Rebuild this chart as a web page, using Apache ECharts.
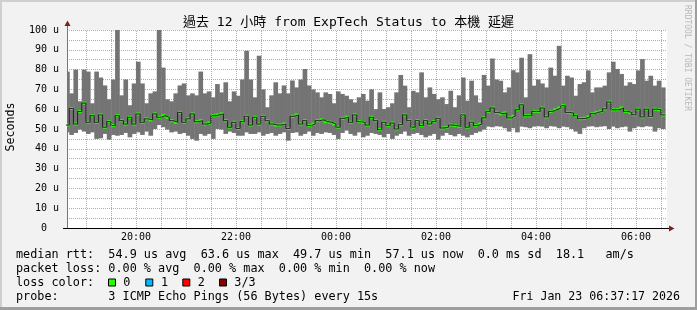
<!DOCTYPE html>
<html><head><meta charset="utf-8">
<script src="https://cdn.jsdelivr.net/npm/echarts@6/dist/echarts.min.js"></script>
<style>html,body{margin:0;padding:0;background:#f2f2f2}#c{width:697px;height:310px}</style>
</head><body><div id="c"></div>
<script>
// ---- time axis (minutes after 18:00) ----
const VIEW_START = 37.283;   // 18:37:17
const VIEW_END = 757.283;    // 06:37:17
const BIN0 = 35;             // first 5-minute bin starts 18:35
const STEP = 5;

// ---- data (microseconds) per 5-minute bin ----
const rttMax = [79,68,80,64,80,79,63,79,76,72,65,75,100,67,75,62,73,84,73,63,68,69,100,81,65,64,68,72,73,67,68,67,79,68,69,66,
72.7,68.5,73.6,64,69,66.8,75,89.5,75,66,87,70,61,67,73.6,68,72,68,74.5,71,75,80.3,72,70,68.5,66,68.5,67.7,63,69,67.7,66.8,65,63.4,66,67.7,
64.3,70,60,68.5,60.1,61,63,68.5,77.3,71.9,61,69.3,68.5,78.6,66,71,67.7,65,66,62.6,69.3,61,67,76,64.3,74.4,67,63.4,77.3,71.9,85.6,75,74.4,68.5,71,79.7,
78.6,86,66,87.8,71.9,75,73,71,81,76.9,92,71.9,76.9,76,66.8,72.7,73.6,79.6,68.5,71,71,71.9,78.6,84,80.3,77.8,71.9,73.6,72.7,79.6,85.3,74.4,76.9,71.9,74.4,71];
const rttMin = [48.3,47.0,48.0,49.7,48.7,47.5,48.3,45.0,45.3,47.5,44.6,47.0,46.6,47.0,48.0,45.8,47.5,48.3,47.0,48.7,46.6,50.0,52.0,50.9,49.7,48.3,48.7,47.5,48.0,46.6,45.0,44.1,47.5,46.6,47.5,45.0,
50.0,49.7,47.5,48.7,48.0,46.6,46.6,48.3,47.5,47.5,48.3,46.6,47.5,48.0,46.6,47.5,48.3,44.1,48.0,48.3,46.6,47.5,48.7,46.6,48.0,47.5,48.3,48.0,47.0,45.0,48.0,49.2,47.5,46.6,48.3,45.8,
46.6,48.0,47.5,47.0,45.8,47.5,45.0,46.6,47.5,48.7,46.6,47.5,48.0,47.0,45.8,46.6,47.5,44.6,46.6,48.0,47.0,46.3,47.5,46.6,45.8,47.0,48.0,48.7,
49.7,51.2,50.9,51.4,51.2,50.4,48.7,
50.4,48.3,51.2,50.9,50.4,51.2,51.4,51.2,50.4,51.4,51.2,50.4,51.2,50.9,50.0,48.7,47.5,50.4,51.2,51.4,50.9,51.2,51.4,50.0,51.2,50.4,50.9,51.2,48.7,50.4,51.2,50.9,51.4,51.2,48.7,50.4,50.0];
const rttMedian = [52.0,60.4,52.5,58.8,63.1,53.4,56.7,53.4,57.1,50.9,53.7,51.7,56.7,54.2,52.5,55.9,52.5,57.6,53.4,55.1,54.6,57.6,55.9,56.7,55.9,54.2,53.4,58.4,53.4,55.1,57.6,53.7,54.2,52.5,53.0,56.7,
57.1,57.6,54.2,50.9,53.4,50.3,53.7,56.4,52.0,55.9,52.5,56.4,54.2,52.5,52.0,52.0,52.5,50.3,56.4,57.1,52.5,54.2,51.7,52.5,54.2,54.6,53.7,53.4,52.5,50.9,55.4,55.9,53.4,57.1,53.7,53.4,
52.0,55.9,54.2,49.7,53.4,51.7,53.0,50.0,52.2,57.1,54.2,50.9,54.2,51.7,54.2,52.5,53.7,55.4,50.5,50.9,52.0,51.7,51.4,57.1,50.9,53.4,51.7,52.5,
55.6,58.9,60.6,58.4,57.7,58.1,55.6,56.4,59.7,62.2,56.7,56.7,58.9,58.9,60.6,56.1,58.9,59.7,60.6,61.8,58.4,58.1,56.7,55.2,55.4,56.1,57.7,58.4,58.9,60.2,63.6,59.7,59.7,60.6,58.9,58.4,57.2,60.0,56.1,60.0,56.4,60.0,59.7,57.1];

// ---- ticks ----
const yTicks = [0,10,20,30,40,50,60,70,80,90,100];
const xLabelTicks = [120,240,360,480,600,720];
const hourTicks = [60,120,180,240,300,360,420,480,540,600,660,720];
const halfTicks = [90,150,210,270,330,390,450,510,570,630,690,750];

// ---- texts ----
const titleText = '過去 12 小時 from ExpTech Status to 本機 延遲';
const yName = 'Seconds';
const watermark = 'RRDTOOL / TOBI OETIKER';
const legendLines = [
  'median rtt:  54.9 us avg  63.6 us max  49.7 us min  57.1 us now  0.0 ms sd  18.1   am/s',
  'packet loss: 0.00 % avg  0.00 % max  0.00 % min  0.00 % now',
  'loss color:',
  'probe:       3 ICMP Echo Pings (56 Bytes) every 15s'
];
const lossNames = ['0', '1', '2', '3/3'];
const stamp = 'Fri Jan 23 06:37:17 2026';

// ---- layout / style ----
const LOSS_COLORS = ['#26ff00', '#00b8ff', '#ff0000', '#8b0000'];
const MONO = "'DejaVu Sans Mono', 'Noto Sans CJK TC', monospace";
const GRID_MAJOR = 'rgba(222,80,80,0.6)';
const GRID_MINOR = 'rgba(143,143,143,0.75)';
const boxX = [108.5, 145.8, 182.8, 219.5];
const lossTextX = [123.3, 161, 197.7, 234.3];
const rowY = [254.5, 268.5, 282.5, 296.5];

function hhmm(v) {
  const m = ((18 * 60 + Math.round(v)) % 1440 + 1440) % 1440;
  return String(Math.floor(m / 60)).padStart(2, '0') + ':' + String(m % 60).padStart(2, '0');
}

const smokeData = rttMin.map((lo, i) => [BIN0 + STEP * i, lo, rttMax[i]]);
const medianData = rttMedian.map((m, i) => [BIN0 + STEP * i, m]);
const medianLine = medianData.concat([[BIN0 + STEP * rttMedian.length, rttMedian[rttMedian.length - 1]]]);

const legendFont = '11.8px ' + MONO;
const graphic = [
  {type: 'rect', shape: {x: 0, y: 0, width: 697, height: 2}, style: {fill: '#cfcfcf'}, silent: true},
  {type: 'rect', shape: {x: 0, y: 0, width: 2, height: 310}, style: {fill: '#cfcfcf'}, silent: true},
  {type: 'rect', shape: {x: 0, y: 307, width: 697, height: 3}, style: {fill: '#9e9e9e'}, silent: true},
  {type: 'rect', shape: {x: 695, y: 0, width: 2, height: 310}, style: {fill: '#9e9e9e'}, silent: true},
  {type: 'text', x: 348.5, y: 22.5, style: {text: titleText, font: '13px ' + MONO, fill: '#000', textAlign: 'center', textVerticalAlign: 'middle'}},
  {type: 'text', x: 11, y: 127, rotation: Math.PI / 2, style: {text: yName, font: '11.6px ' + MONO, fill: '#000', textAlign: 'center', textVerticalAlign: 'middle'}},
  {type: 'text', x: 687, y: 58, rotation: -Math.PI / 2, style: {text: watermark, font: '8px ' + MONO, fill: '#b8b8b8', textAlign: 'center', textVerticalAlign: 'middle'}},
  // axis extensions and arrows
  {type: 'line', shape: {x1: 63, y1: 228.5, x2: 669, y2: 228.5}, style: {stroke: '#000', lineWidth: 1}, z: 10},
  {type: 'line', shape: {x1: 67.5, y1: 25, x2: 67.5, y2: 30}, style: {stroke: '#777', lineWidth: 1}, z: 10},
  {type: 'polygon', shape: {points: [[64.5, 26], [70.5, 26], [67.5, 20.5]]}, style: {fill: '#7f1f1f'}, z: 10},
  {type: 'polygon', shape: {points: [[669, 225.5], [669, 231.5], [674.5, 228.5]]}, style: {fill: '#7f1f1f'}, z: 10}
];
legendLines.forEach((t, i) => graphic.push({type: 'text', x: 16, y: rowY[i], style: {text: t, font: legendFont, fill: '#000', textVerticalAlign: 'middle'}}));
lossNames.forEach((t, i) => {
  graphic.push({type: 'rect', shape: {x: boxX[i], y: rowY[2] - 3.5, width: 7, height: 7}, style: {fill: LOSS_COLORS[i], stroke: '#000', lineWidth: 1}});
  graphic.push({type: 'text', x: lossTextX[i], y: rowY[2], style: {text: t, font: legendFont, fill: '#000', textVerticalAlign: 'middle'}});
});
graphic.push({type: 'text', x: 680, y: rowY[3], style: {text: stamp, font: '11.6px ' + MONO, fill: '#000', textAlign: 'right', textVerticalAlign: 'middle'}});

const chart = echarts.init(document.getElementById('c'), null, {renderer: 'canvas', width: 697, height: 310});
chart.setOption({
  animation: false,
  backgroundColor: '#f2f2f2',
  grid: {left: 67, right: 30, top: 30, bottom: 82, show: true, backgroundColor: '#ffffff', borderWidth: 0},
  xAxis: {
    type: 'value', min: VIEW_START, max: VIEW_END, z: 5,
    axisLine: {show: true, lineStyle: {color: '#000', width: 1}},
    axisTick: {show: false},
    splitLine: {show: false},
    axisLabel: {customValues: xLabelTicks, formatter: hhmm, margin: 4, fontFamily: 'DejaVu Sans Mono', fontSize: 10, color: '#000'}
  },
  yAxis: {
    type: 'value', min: 0, max: 100, interval: 10,
    axisLine: {show: true, lineStyle: {color: '#777', width: 1}},
    axisTick: {show: false},
    axisLabel: {formatter: v => (v === 0 ? '0  ' : v + ' u'), margin: 8, fontFamily: 'DejaVu Sans Mono', fontSize: 10, color: '#000'},
    splitLine: {show: true, lineStyle: {color: GRID_MAJOR, type: [1, 1], width: 1}},
    minorTick: {show: false, splitNumber: 2},
    minorSplitLine: {show: true, lineStyle: {color: GRID_MINOR, type: [1, 1], width: 1}}
  },
  graphic: graphic,
  series: [
    {
      type: 'custom', name: 'smoke', clip: true, z: 2, silent: true,
      data: smokeData,
      encode: {x: 0, y: [1, 2]},
      renderItem: (params, api) => {
        const t = api.value(0), lo = api.value(1), hi = api.value(2);
        const a = api.coord([t, hi]), b = api.coord([t + STEP, lo]);
        return {type: 'rect', shape: {x: a[0], y: a[1], width: b[0] - a[0] + 0.5, height: b[1] - a[1]}, style: {fill: '#747474'}};
      }
    },
    {
      type: 'line', name: 'median', step: 'end', clip: true, z: 2, silent: true,
      data: medianLine, symbol: 'none',
      lineStyle: {color: '#202020', width: 1}
    },
    {
      type: 'custom', name: 'median loss 0', clip: true, z: 2, silent: true,
      data: medianData,
      encode: {x: 0, y: 1},
      renderItem: (params, api) => {
        const t = api.value(0), m = api.value(1);
        const a = api.coord([t, m]), b = api.coord([t + STEP, m]);
        return {type: 'rect', shape: {x: a[0] + 0.5, y: a[1] - 1.5, width: b[0] - a[0] - 0.5, height: 3}, style: {fill: LOSS_COLORS[0]}};
      }
    },
    {
      type: 'line', name: 'grid', data: [], z: 3, silent: true,
      markLine: {
        silent: true, symbol: ['none', 'none'], animation: false, label: {show: false},
        data: halfTicks.map(v => ({xAxis: v, lineStyle: {color: GRID_MINOR, type: [1, 1], width: 1}}))
          .concat(hourTicks.map(v => ({xAxis: v, lineStyle: {color: GRID_MAJOR, type: [1, 1], width: 1}})))
      }
    }
  ]
});
</script></body></html>
